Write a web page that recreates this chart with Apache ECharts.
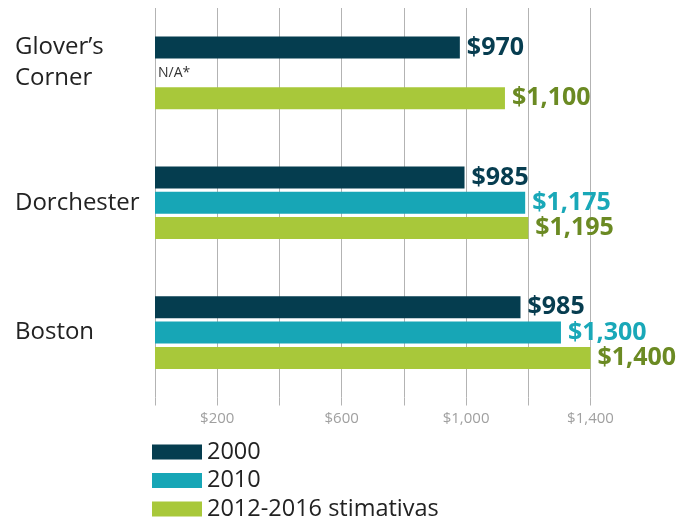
<!DOCTYPE html>
<html>
<head>
<meta charset="utf-8">
<script src="https://cdn.jsdelivr.net/npm/echarts@6/dist/echarts.min.js"></script>
<style>
  html, body { margin: 0; padding: 0; background: #fff; }
  #chart { width: 689px; height: 518px; }
</style>
</head>
<body>
<div id="chart"></div>
<script>
    const places = ['Glover’s\nCorner', 'Dorchester', 'Boston'];
    const seriesNames = ['2000', '2010', '2012-2016 stimativas'];
    // bar lengths
    const rent2000 = [980, 995, 1175];
    const rent2010 = [0, 1190, 1305];
    const rent2012 = [1125, 1200, 1405];
    // printed labels
    const labels2000 = ['$970', '$985', '$985'];
    const labels2010 = ['N/A*', '$1,175', '$1,300'];
    const labels2012 = ['$1,100', '$1,195', '$1,400'];
    const tickLabels = { 200: '$200', 600: '$600', 1000: '$1,000', 1400: '$1,400' };

    const barColor = ['#053d4f', '#17a6b6', '#a8c83a'];
    const labelColor = ['#073d50', '#19a8b8', '#6b8a23'];
    const font = '"Open Sans", "Noto Sans", sans-serif';

    let makeSeries = (i, values, labels) => {
        return {
            name: seriesNames[i],
            type: 'bar',
            barWidth: 22,
            barGap: '15%',
            itemStyle: { color: barColor[i] },
            data: values.map((v, j) => {
                let item = { value: v };
                if (labels[j] === 'N/A*') {
                    item.label = { color: '#333', fontSize: 14, fontWeight: 'normal', distance: 3 };
                }
                return item;
            }),
            label: {
                show: true,
                position: 'right',
                distance: 7,
                fontFamily: font,
                fontSize: 25,
                fontWeight: 'bold',
                color: labelColor[i],
                formatter: (p) => labels[p.dataIndex]
            }
        };
    };

    // two-line names sit a bit higher than the bar group
    let placeLabel = (v) => {
        if (v.indexOf('\n') < 0) return v;
        return v.split('\n').map(s => '{a|' + s + '}').join('\n') + '\n{s| }';
    };

    const chart = echarts.init(document.getElementById('chart'));
    chart.setOption({
        backgroundColor: '#fff',
        animation: false,
        grid: { left: 155, right: 98.5, top: 8, height: 389.5, containLabel: false, outerBoundsMode: 'none' },
        legend: {
            orient: 'vertical',
            left: 152,
            top: 439,
            height: 90,
            padding: 0,
            itemWidth: 50,
            itemHeight: 15,
            itemGap: 2.5,
            icon: 'rect',
            textStyle: { fontFamily: font, fontSize: 23.5, lineHeight: 26, color: '#222' },
            data: seriesNames
        },
        xAxis: {
            type: 'value',
            min: 0,
            max: 1400,
            interval: 200,
            axisLine: { show: false },
            axisTick: { show: true, length: 8, lineStyle: { color: '#b3b3b3' } },
            splitLine: { show: true, lineStyle: { color: '#b3b3b3', width: 1 } },
            axisLabel: {
                margin: 14,
                fontFamily: font,
                fontSize: 15,
                color: '#a0a0a0',
                formatter: (v) => tickLabels[v] || ''
            }
        },
        yAxis: {
            type: 'category',
            inverse: true,
            data: places,
            axisLine: { show: false },
            axisTick: { show: false },
            axisLabel: {
                align: 'left',
                margin: 140,
                fontFamily: font,
                fontSize: 24,
                lineHeight: 31,
                color: '#222',
                formatter: placeLabel,
                rich: {
                    a: { fontFamily: font, fontSize: 24, lineHeight: 31, color: '#222', align: 'left' },
                    s: { fontSize: 10, lineHeight: 21 }
                }
            }
        },
        series: [
            makeSeries(0, rent2000, labels2000),
            makeSeries(1, rent2010, labels2010),
            makeSeries(2, rent2012, labels2012)
        ]
    });
</script>
</body>
</html>
